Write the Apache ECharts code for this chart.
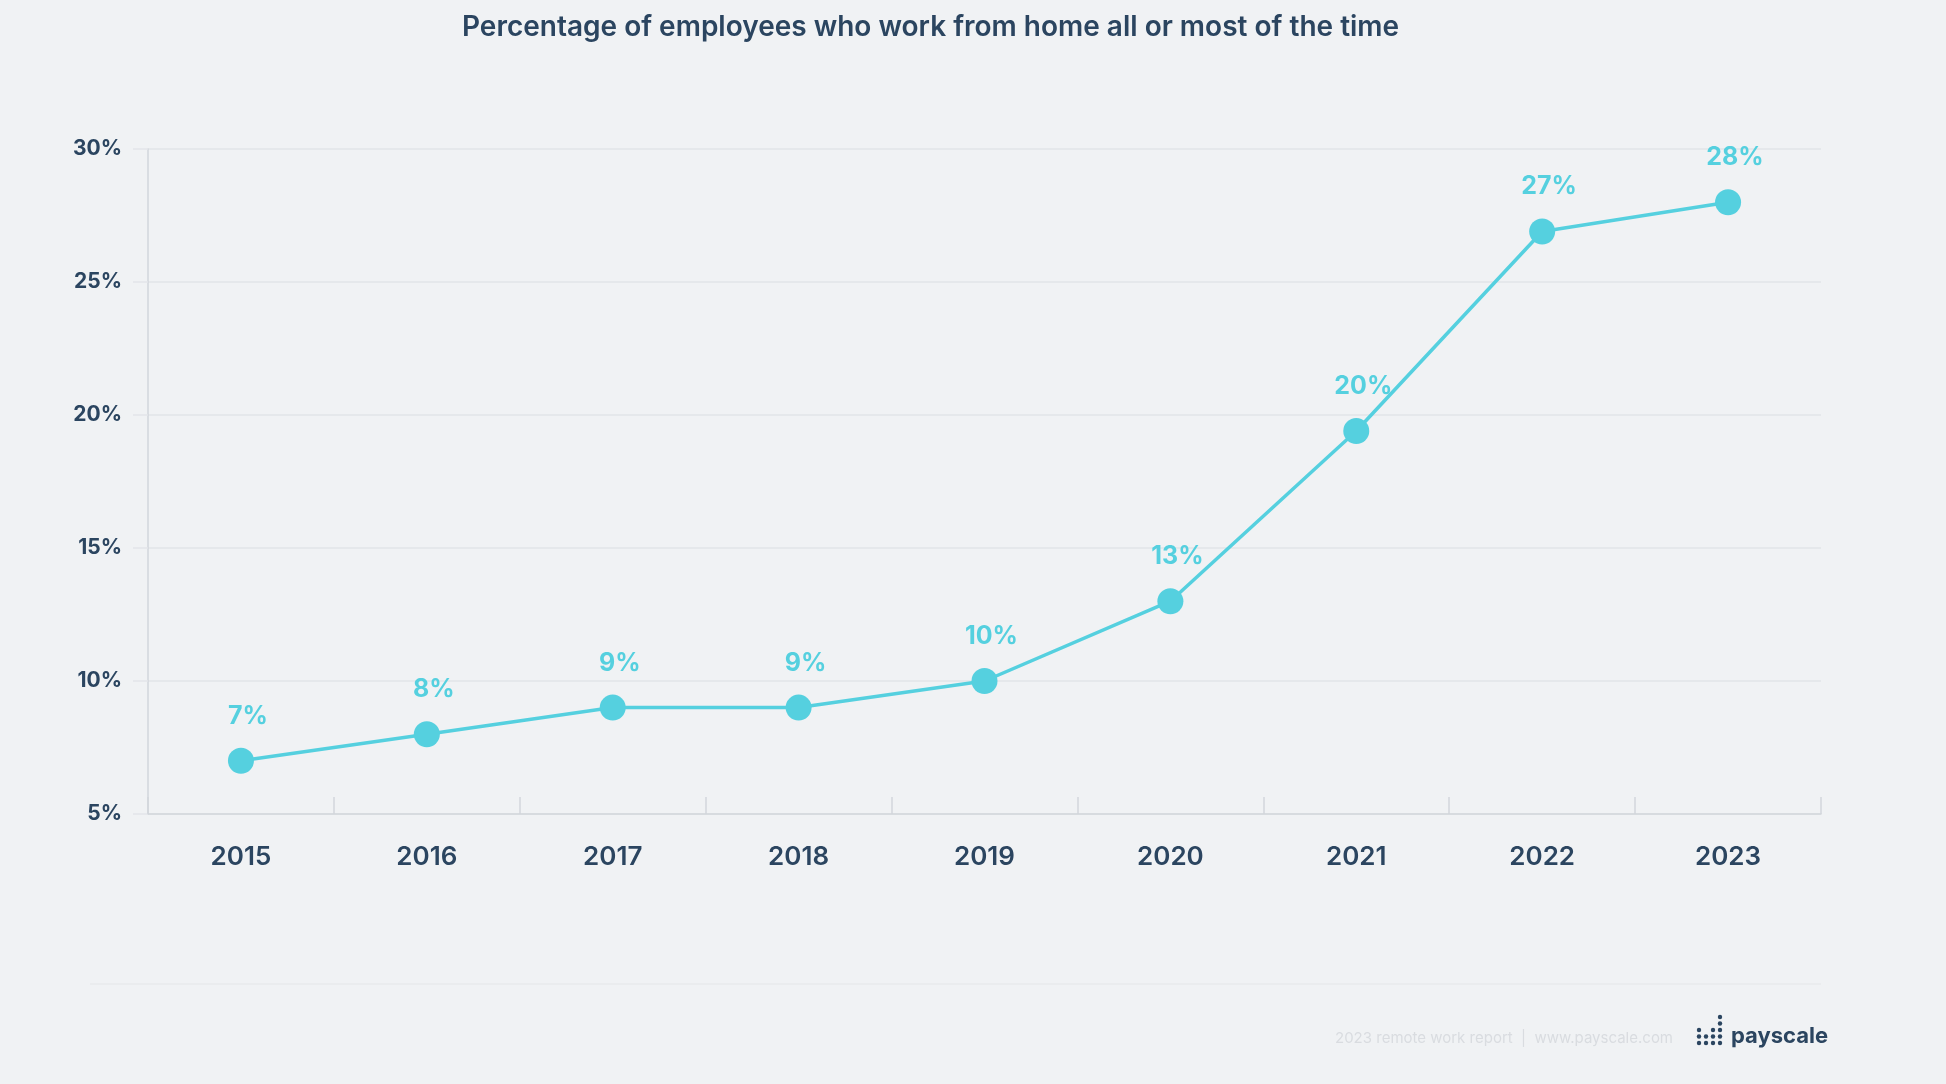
<!DOCTYPE html>
<html>
<head>
<meta charset="utf-8">
<script src="https://cdn.jsdelivr.net/npm/echarts@6/dist/echarts.min.js"></script>
<style>
html,body{margin:0;padding:0;background:#f0f2f4;}
#chart{width:1946px;height:1084px;}
</style>
</head>
<body>
<div id="chart"></div>
<script>
const titleText = 'Percentage of employees who work from home all or most of the time';
const years = ['2015', '2016', '2017', '2018', '2019', '2020', '2021', '2022', '2023'];
const shareValues = [7, 8, 9, 9, 10, 13, 19.4, 26.9, 28];
const shareLabels = ['7%', '8%', '9%', '9%', '10%', '13%', '20%', '27%', '28%'];
const yMin = 5, yMax = 30, yStep = 5;
const footerText = '2023 remote work report  |  www.payscale.com';
const brandText = 'payscale';

const DARK = '#2b4560';
const CYAN = '#55d0df';
const GRID = '#e2e5e9';
const AXIS = '#d2d6dc';

// logo dot columns (number of dots per column)
const logoCols = [3, 2, 3, 5];
const logoDots = [];
logoCols.forEach(function (n, ci) {
  for (let r = 0; r < n; r++) {
    logoDots.push({
      type: 'circle',
      shape: { cx: 1699 + ci * 7, cy: 1043 - r * 6.5, r: 2.2 },
      style: { fill: DARK }
    });
  }
});

const chart = echarts.init(document.getElementById('chart'));
chart.setOption({
  backgroundColor: '#f0f2f4',
  animation: false,
  title: {
    text: titleText,
    left: 457,
    top: 9,
    textStyle: { fontFamily: 'Inter', fontWeight: 600, fontSize: 28, color: DARK }
  },
  grid: { left: 148, right: 125, top: 149, bottom: 270, containLabel: false },
  xAxis: {
    type: 'category',
    data: years,
    boundaryGap: true,
    axisLine: { lineStyle: { color: AXIS, width: 1.5 } },
    axisTick: { show: true, inside: true, length: 17, lineStyle: { color: AXIS, width: 1.5 } },
    axisLabel: { margin: 30, fontFamily: 'Inter', fontWeight: 600, fontSize: 26, color: DARK },
    splitLine: { show: false }
  },
  yAxis: {
    type: 'value',
    min: yMin,
    max: yMax,
    interval: yStep,
    axisLine: { show: true, lineStyle: { color: AXIS, width: 1.5 } },
    axisTick: { show: true, inside: false, length: 15, lineStyle: { color: GRID, width: 1.5 } },
    axisLabel: {
      margin: 26,
      formatter: '{value}%',
      fontFamily: 'Inter', fontWeight: 700, fontSize: 21, color: DARK
    },
    splitLine: { show: true, lineStyle: { color: GRID, width: 1.5 } }
  },
  series: [{
    type: 'line',
    data: shareValues,
    symbol: 'circle',
    symbolSize: 26,
    lineStyle: { color: CYAN, width: 3.5 },
    itemStyle: { color: CYAN },
    label: {
      show: true,
      position: 'top',
      distance: 19,
      offset: [7, 0],
      formatter: function (p) { return shareLabels[p.dataIndex]; },
      fontFamily: 'Inter', fontWeight: 700, fontSize: 25, color: CYAN
    }
  }],
  graphic: [
    {
      type: 'line',
      shape: { x1: 90, y1: 984, x2: 1821, y2: 984 },
      style: { stroke: '#e8eaed', lineWidth: 1.5 }
    },
    {
      type: 'text',
      x: 1335, y: 1038,
      style: {
        text: footerText, fill: '#d9dce0', fontFamily: 'Inter', fontSize: 15,
        textVerticalAlign: 'middle', textAlign: 'left'
      }
    },
    {
      type: 'text',
      x: 1731, y: 1036,
      style: {
        text: brandText, fill: DARK, fontFamily: 'Inter', fontWeight: 700, fontSize: 22,
        textVerticalAlign: 'middle', textAlign: 'left'
      }
    }
  ].concat(logoDots)
});
</script>
</body>
</html>
